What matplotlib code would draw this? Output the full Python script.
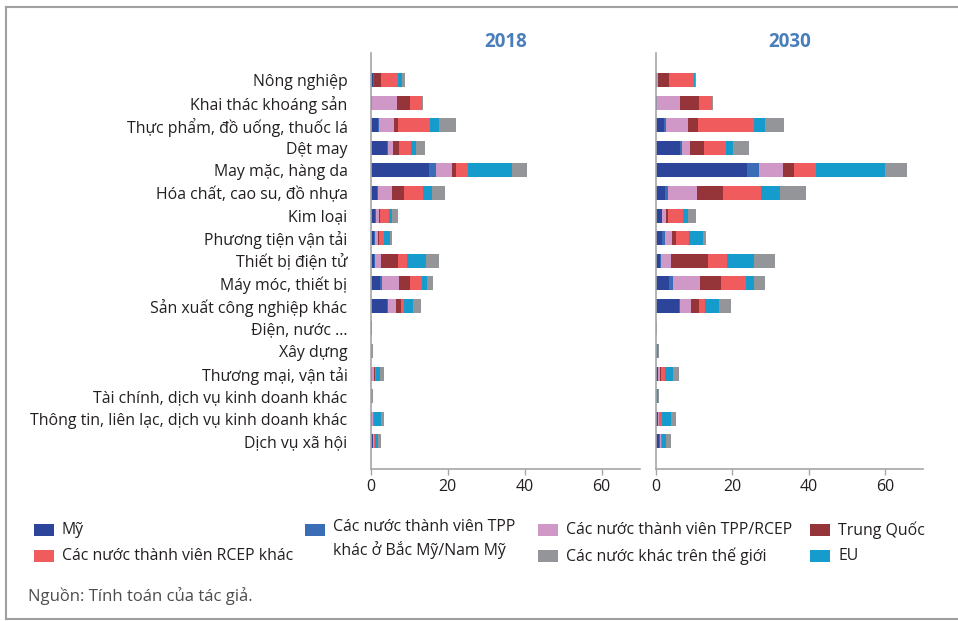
import matplotlib
matplotlib.use("Agg")
import matplotlib.pyplot as plt
from matplotlib.patches import Rectangle
from matplotlib.lines import Line2D
import numpy as np

plt.rcParams['font.family'] = ['Open Sans', 'DejaVu Sans']

sectors = ["Nông nghiệp", "Khai thác khoáng sản", "Thực phẩm, đồ uống, thuốc lá",
           "Dệt may", "May mặc, hàng da", "Hóa chất, cao su, đồ nhựa", "Kim loại",
           "Phương tiện vận tải", "Thiết bị điện tử", "Máy móc, thiết bị",
           "Sản xuất công nghiệp khác", "Điện, nước ...", "Xây dựng",
           "Thương mại, vận tải", "Tài chính, dịch vụ kinh doanh khác",
           "Thông tin, liên lạc, dịch vụ kinh doanh khác", "Dịch vụ xã hội"]

series_names = ["Mỹ", "Các nước thành viên TPP\nkhác ở Bắc Mỹ/Nam Mỹ",
                "Các nước thành viên TPP/RCEP", "Trung Quốc",
                "Các nước thành viên RCEP khác", "EU", "Các nước khác trên thế giới"]
colors = ["#2c459b", "#3a6db5", "#d098c6", "#953539", "#f05c5e", "#169ccc", "#939598"]

# 2018
us_2018    = [0.5, 0.2, 1.7, 4.1, 15.1, 1.5, 1.1, 0.7, 0.7, 2.3, 4.2, 0.0, 0.0, 0.25, 0.0, 0.15, 0.4]
tpp_2018   = [0.2, 0.0, 0.5, 0.3, 1.8, 0.3, 0.2, 0.3, 0.3, 0.5, 0.35, 0.0, 0.0, 0.0, 0.0, 0.0, 0.15]
tppr_2018  = [0.2, 6.5, 3.7, 1.4, 4.1, 3.6, 0.7, 0.8, 1.6, 4.6, 2.0, 0.0, 0.0, 0.5, 0.0, 0.25, 0.3]
china_2018 = [1.6, 3.5, 1.2, 1.6, 1.1, 3.2, 0.35, 0.35, 4.3, 2.7, 1.3, 0.15, 0.0, 0.25, 0.0, 0.0, 0.0]
rcep_2018  = [4.6, 3.0, 8.3, 3.1, 3.2, 5.0, 2.4, 1.3, 2.5, 3.2, 0.8, 0.0, 0.0, 0.25, 0.0, 0.4, 0.15]
eu_2018    = [0.9, 0.0, 2.3, 1.3, 11.5, 2.3, 0.8, 1.6, 5.0, 1.2, 2.3, 0.0, 0.2, 1.2, 0.2, 1.7, 0.8]
row_2018   = [0.8, 0.4, 4.3, 2.3, 3.8, 3.3, 1.4, 0.35, 3.2, 1.7, 2.1, 0.2, 0.3, 1.0, 0.4, 0.9, 0.9]

# 2030
us_2030    = [0.35, 0.35, 2.1, 6.3, 23.8, 2.3, 1.5, 1.6, 1.0, 3.4, 5.9, 0.0, 0.0, 0.5, 0.0, 0.5, 0.9]
tpp_2030   = [0.0, 0.0, 0.5, 0.4, 3.1, 0.9, 0.2, 0.7, 0.3, 1.0, 0.35, 0.0, 0.0, 0.0, 0.0, 0.0, 0.2]
tppr_2030  = [0.2, 5.9, 5.8, 2.1, 6.4, 7.5, 1.0, 1.9, 2.6, 7.2, 2.9, 0.0, 0.0, 0.5, 0.0, 0.25, 0.25]
china_2030 = [2.9, 5.0, 2.5, 3.7, 2.8, 6.9, 0.4, 1.0, 9.7, 5.5, 2.2, 0.0, 0.0, 0.4, 0.0, 0.0, 0.0]
rcep_2030  = [6.4, 3.4, 14.7, 5.8, 5.8, 9.9, 4.1, 3.5, 5.1, 6.4, 1.6, 0.0, 0.0, 0.9, 0.0, 0.7, 0.25]
eu_2030    = [0.4, 0.0, 2.9, 1.9, 18.1, 4.9, 1.2, 3.5, 7.0, 2.1, 3.5, 0.0, 0.5, 2.2, 0.5, 2.4, 1.0]
row_2030   = [0.35, 0.4, 5.0, 4.1, 5.9, 6.8, 2.0, 0.9, 5.5, 3.1, 3.2, 0.3, 0.3, 1.5, 0.2, 1.4, 1.4]

data = {
    "2018": [us_2018, tpp_2018, tppr_2018, china_2018, rcep_2018, eu_2018, row_2018],
    "2030": [us_2030, tpp_2030, tppr_2030, china_2030, rcep_2030, eu_2030, row_2030],
}
xticks = [0, 20, 40, 60]

W, H = 958, 621
fig = plt.figure(figsize=(W / 100, H / 100), dpi=100)

def fx(px):
    return px / W

def fy(py):
    return 1 - py / H

text_color = "#231f20"
axis_color = "#a6a6a6"
title_color = "#4a7ebb"

panels = [("2018", 371, 640), ("2030", 656, 923)]
top, bottom = 53, 469
y = np.arange(len(sectors))
for i, (year, left, right) in enumerate(panels):
    ax = fig.add_axes([fx(left), fy(bottom), fx(right - left), (bottom - top) / H])
    lefts = np.zeros(len(sectors))
    for vals, c in zip(data[year], colors):
        v = np.array(vals)
        ax.barh(y, v, left=lefts, height=0.62, color=c, edgecolor='none')
        lefts += v
    ax.set_xlim(0, 70)
    ax.set_ylim(len(sectors) - 1 + 1.23, -1.2)
    ax.set_xticks(xticks)
    ax.set_xticklabels([str(t) for t in xticks], fontsize=11.5, color=text_color)
    ax.tick_params(axis='x', direction='out', length=4, width=1, color=axis_color, pad=3)
    for s in ['top', 'right']:
        ax.spines[s].set_visible(False)
    for s in ['left', 'bottom']:
        ax.spines[s].set_color(axis_color)
        ax.spines[s].set_linewidth(1.2)
    if i == 0:
        ax.set_yticks(y)
        ax.set_yticklabels(sectors, fontsize=11.4, color=text_color)
        ax.tick_params(axis='y', length=0, pad=17)
    else:
        ax.set_yticks([])
    ax.set_facecolor('none')
    fig.text(fx((left + right) / 2), fy(42), year, ha='center', va='center',
             fontsize=13.5, fontweight='bold', color=title_color)

# Legend (manual layout)
sq_w, sq_h = 20, 12
entries = [
    (0, 34, 530), (4, 34, 556),
    (1, 305, 530),
    (2, 538, 530), (6, 538, 556),
    (3, 810, 530), (5, 810, 556),
]
for idx, xp, yp in entries:
    fig.patches.append(Rectangle((fx(xp), fy(yp + sq_h / 2)), sq_w / W, sq_h / H,
                                 transform=fig.transFigure, facecolor=colors[idx],
                                 edgecolor='none'))
    if '\n' in series_names[idx]:
        fig.text(fx(xp + sq_w + 8), fy(yp - 11), series_names[idx], ha='left', va='top',
                 fontsize=11.4, color=text_color, linespacing=1.45)
    else:
        fig.text(fx(xp + sq_w + 8), fy(yp), series_names[idx], ha='left', va='center',
                 fontsize=11.4, color=text_color)

fig.text(fx(28), fy(596), "Nguồn: Tính toán của tác giả.", ha='left', va='center',
         fontsize=12, color="#4d4d4d")

# Frame
fig.add_artist(Line2D([fx(6), fx(W)], [fy(7), fy(7)], transform=fig.transFigure,
                      color="#a0a0a0", lw=1.5))
fig.add_artist(Line2D([fx(6), fx(W)], [fy(619), fy(619)], transform=fig.transFigure,
                      color="#a0a0a0", lw=1.5))
fig.add_artist(Line2D([fx(6), fx(6)], [fy(7), fy(619)], transform=fig.transFigure,
                      color="#a0a0a0", lw=1.5))

fig.savefig("out.png", dpi=100)
